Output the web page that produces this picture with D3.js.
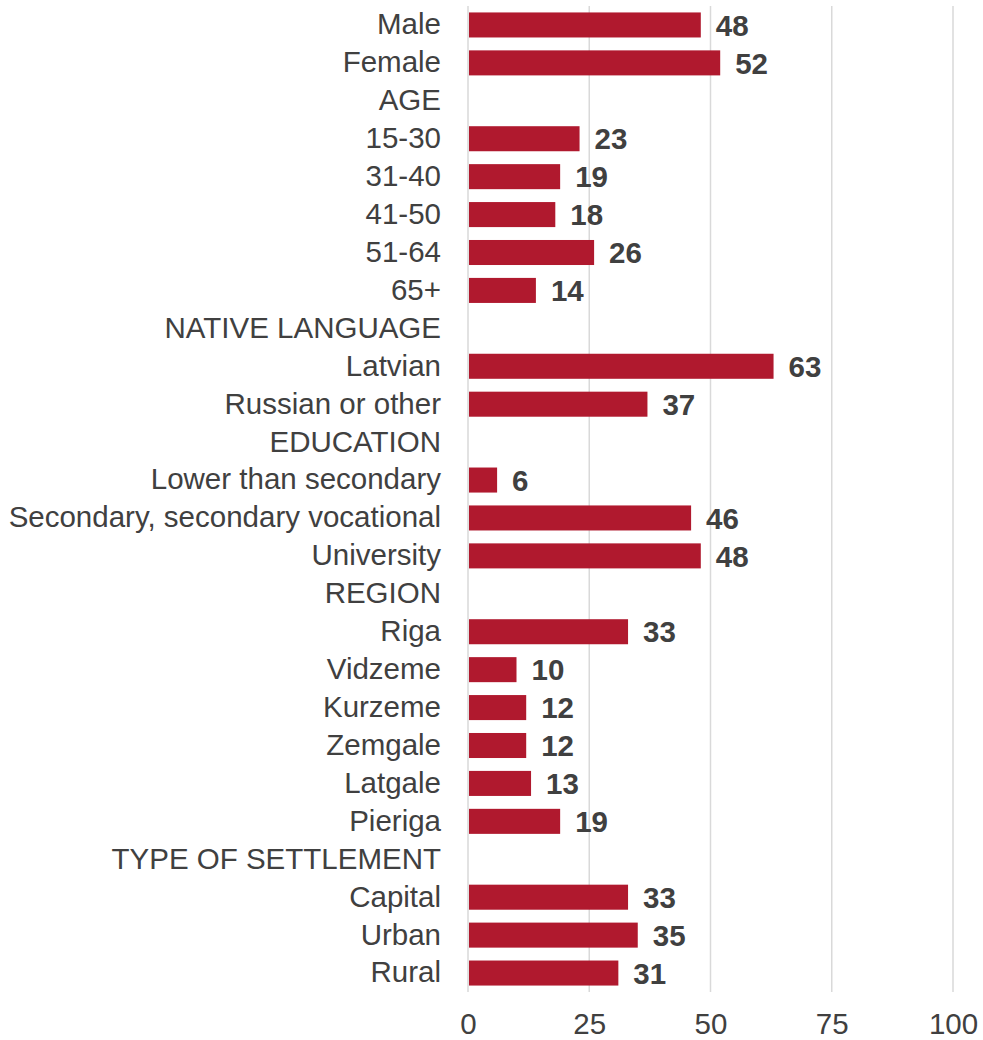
<!DOCTYPE html>
<html>
<head>
<meta charset="utf-8">
<script src="https://cdn.jsdelivr.net/npm/d3@7"></script>
<style>
  html, body { margin: 0; padding: 0; background: #fff; }
  svg { display: block; }
  text { font-family: "Liberation Sans", Arial, sans-serif; }
</style>
</head>
<body>
<svg id="chart" width="983" height="1040"></svg>
<script>
// Rows in display order; headings carry no value
const categories = [
  "Male", "Female",
  "AGE", "15-30", "31-40", "41-50", "51-64", "65+",
  "NATIVE LANGUAGE", "Latvian", "Russian or other",
  "EDUCATION", "Lower than secondary", "Secondary, secondary vocational", "University",
  "REGION", "Riga", "Vidzeme", "Kurzeme", "Zemgale", "Latgale", "Pieriga",
  "TYPE OF SETTLEMENT", "Capital", "Urban", "Rural"
];
const values = [
  48, 52,
  null, 23, 19, 18, 26, 14,
  null, 63, 37,
  null, 6, 46, 48,
  null, 33, 10, 12, 12, 13, 19,
  null, 33, 35, 31
];
const xTicks = [0, 25, 50, 75, 100];

const rows = categories.map((c, i) => ({ cat: c, key: i + ":" + c, value: values[i] }));

const fontSize = 29.5;
const margin = { top: 6, right: 30, bottom: 48, left: 468 };
const innerW = 953 - margin.left;
const innerH = 992 - margin.top;

const svg = d3.select("#chart");
const g = svg.append("g").attr("transform", `translate(${margin.left},${margin.top})`);

const x = d3.scaleLinear().domain([0, 100]).range([0, innerW]);
const y = d3.scaleBand().domain(rows.map(d => d.key)).range([0, innerH]).paddingInner(0.34).paddingOuter(0.17);

// Vertical gridlines
g.append("g")
  .selectAll("line")
  .data(xTicks)
  .join("line")
  .attr("x1", d => x(d)).attr("x2", d => x(d))
  .attr("y1", 0).attr("y2", innerH)
  .attr("stroke", "#d9d9d9")
  .attr("stroke-width", 1.5);

// Bars
g.append("g")
  .selectAll("rect")
  .data(rows.filter(d => d.value != null))
  .join("rect")
  .attr("x", x(0) + 1)
  .attr("y", d => y(d.key))
  .attr("width", d => x(d.value) - x(0) - 1)
  .attr("height", y.bandwidth())
  .attr("fill", "#b0192e");

// Value labels
g.append("g")
  .selectAll("text")
  .data(rows.filter(d => d.value != null))
  .join("text")
  .attr("x", d => x(d.value) + 15)
  .attr("y", d => y(d.key) + y.bandwidth() / 2)
  .attr("dy", "0.36em")
  .attr("font-size", fontSize)
  .attr("font-weight", "bold")
  .attr("fill", "#404040")
  .text(d => d.value);

// Category axis
const yAxis = g.append("g")
  .call(d3.axisLeft(y).tickSize(0).tickPadding(27).tickFormat(k => k.slice(k.indexOf(":") + 1)));
yAxis.select(".domain").remove();
yAxis.selectAll("text")
  .attr("font-size", fontSize)
  .attr("fill", "#404040")
  .attr("font-family", "Liberation Sans, Arial, sans-serif");

// Value axis
const xAxis = g.append("g")
  .attr("transform", `translate(0,${innerH})`)
  .call(d3.axisBottom(x).tickValues(xTicks).tickSize(0).tickPadding(21));
xAxis.select(".domain").remove();
xAxis.selectAll("text")
  .attr("font-size", fontSize)
  .attr("fill", "#404040")
  .attr("font-family", "Liberation Sans, Arial, sans-serif");
</script>
</body>
</html>
